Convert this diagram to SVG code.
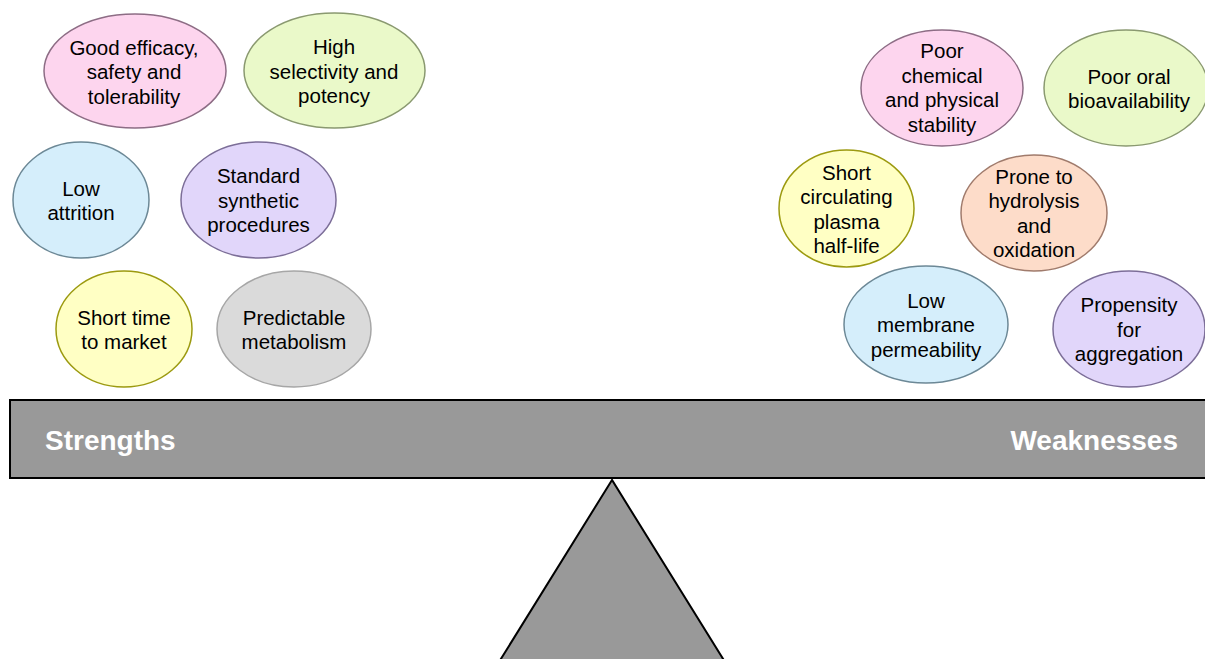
<svg xmlns="http://www.w3.org/2000/svg" width="1205" height="659" viewBox="0 0 1205 659">
<style>
  .n ellipse { stroke-width: 1.5; }
  .t { font-family: "Liberation Sans", Arial, sans-serif; font-size: 20.5px; fill: #000; text-anchor: middle; }
  .pink ellipse { fill: #fdd5ee; stroke: #8d6d85; }
  .green ellipse { fill: #eaf9c9; stroke: #8a9970; }
  .blue ellipse { fill: #d5eefb; stroke: #6c8896; }
  .purple ellipse { fill: #e1d6fa; stroke: #7c6e98; }
  .yellow ellipse { fill: #ffffc4; stroke: #9c9a10; }
  .gray ellipse { fill: #dadada; stroke: #a6a6a6; }
  .peach ellipse { fill: #fddcc9; stroke: #a07b6c; }
  .bal { fill: #999999; stroke: #000; stroke-width: 2; }
  .lbl { font-family: "Liberation Sans", Arial, sans-serif; font-size: 28px; font-weight: bold; fill: #fff; }
</style>
<rect width="1205" height="659" fill="#fff"/>
<g id="fulcrum"><polygon class="bal" points="612,480 499,662 725,662"/></g>
<g id="beam">
  <rect class="bal" x="10" y="400" width="1200" height="78"/>
  <text class="lbl" x="45" y="450">Strengths</text>
  <text class="lbl" x="1178" y="450" text-anchor="end">Weaknesses</text>
</g>
<g id="connectors"/>
<g id="n1" class="n pink"><ellipse cx="135" cy="71" rx="91" ry="57"/>
  <text class="t" x="134" y="54.5">Good efficacy,</text><text class="t" x="134" y="79">safety and</text><text class="t" x="134" y="103.5">tolerability</text></g>
<g id="n2" class="n green"><ellipse cx="334.5" cy="70.5" rx="90.5" ry="57.5"/>
  <text class="t" x="334" y="54">High</text><text class="t" x="334" y="78.5">selectivity and</text><text class="t" x="334" y="103">potency</text></g>
<g id="n3" class="n blue"><ellipse cx="81" cy="200" rx="68" ry="58"/>
  <text class="t" x="81" y="195.5">Low</text><text class="t" x="81" y="220">attrition</text></g>
<g id="n4" class="n purple"><ellipse cx="258.5" cy="200" rx="77.5" ry="58"/>
  <text class="t" x="258.5" y="183">Standard</text><text class="t" x="258.5" y="207.5">synthetic</text><text class="t" x="258.5" y="232">procedures</text></g>
<g id="n5" class="n yellow"><ellipse cx="124" cy="329" rx="68" ry="58"/>
  <text class="t" x="124" y="324.5">Short time</text><text class="t" x="124" y="349">to market</text></g>
<g id="n6" class="n gray"><ellipse cx="294" cy="329" rx="77" ry="58"/>
  <text class="t" x="294" y="324.5">Predictable</text><text class="t" x="294" y="349">metabolism</text></g>
<g id="n7" class="n pink"><ellipse cx="942" cy="88" rx="81" ry="58"/>
  <text class="t" x="942" y="58">Poor</text><text class="t" x="942" y="82.5">chemical</text><text class="t" x="942" y="107">and physical</text><text class="t" x="942" y="131.5">stability</text></g>
<g id="n8" class="n green"><ellipse cx="1126" cy="88" rx="82" ry="58"/>
  <text class="t" x="1129" y="83.5">Poor oral</text><text class="t" x="1129" y="108">bioavailability</text></g>
<g id="n9" class="n yellow"><ellipse cx="846.5" cy="208.5" rx="67.5" ry="58.5"/>
  <text class="t" x="846.5" y="179.5">Short</text><text class="t" x="846.5" y="204">circulating</text><text class="t" x="846.5" y="228.5">plasma</text><text class="t" x="846.5" y="253">half-life</text></g>
<g id="n10" class="n peach"><ellipse cx="1034" cy="213" rx="73" ry="58"/>
  <text class="t" x="1034" y="183.5">Prone to</text><text class="t" x="1034" y="208">hydrolysis</text><text class="t" x="1034" y="232.5">and</text><text class="t" x="1034" y="257">oxidation</text></g>
<g id="n11" class="n blue"><ellipse cx="926" cy="324.5" rx="82" ry="58.5"/>
  <text class="t" x="926" y="307.5">Low</text><text class="t" x="926" y="332">membrane</text><text class="t" x="926" y="356.5">permeability</text></g>
<g id="n12" class="n purple"><ellipse cx="1129" cy="329" rx="76" ry="58"/>
  <text class="t" x="1129" y="312">Propensity</text><text class="t" x="1129" y="336.5">for</text><text class="t" x="1129" y="361">aggregation</text></g>
</svg>
